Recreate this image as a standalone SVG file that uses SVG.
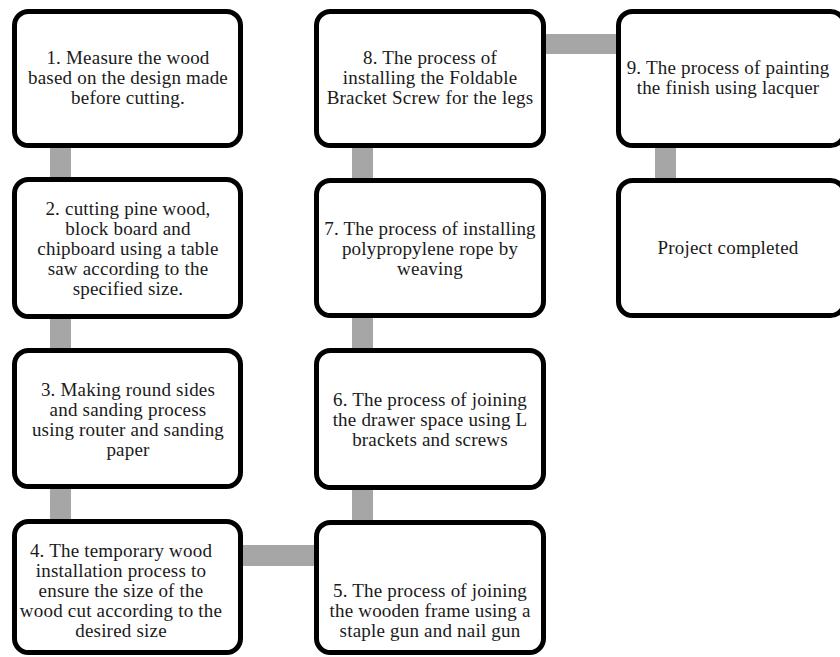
<svg xmlns="http://www.w3.org/2000/svg" width="840" height="657" viewBox="0 0 840 657">
<style>
.box{fill:#fff;stroke:#000;stroke-width:5}
.lbl{font-family:"Liberation Serif","Times New Roman",serif;font-size:19px;fill:#1a1a1a;text-anchor:middle;letter-spacing:0.2px}
.con{fill:#a6a6a6}
</style>
<rect width="840" height="657" fill="#fff"/>
<g id="connectors">
<rect class="con" x="50" y="146" width="21" height="34"/>
<rect class="con" x="50" y="316" width="21" height="35"/>
<rect class="con" x="50" y="486" width="21" height="36"/>
<rect class="con" x="241" y="545" width="76" height="21"/>
<rect class="con" x="352" y="486" width="21" height="36"/>
<rect class="con" x="352" y="316" width="21" height="35"/>
<rect class="con" x="352" y="146" width="21" height="34"/>
<rect class="con" x="544" y="34" width="75" height="20"/>
<rect class="con" x="655" y="146" width="21" height="34"/>
</g>
<g id="n1"><rect class="box" x="14.5" y="11.5" width="226" height="134" rx="14"/>
<text class="lbl" x="128" y="64">1. Measure the wood</text>
<text class="lbl" x="128" y="84">based on the design made</text>
<text class="lbl" x="128" y="104">before cutting.</text></g>
<g id="n2"><rect class="box" x="14.5" y="179.5" width="226" height="137" rx="14"/>
<text class="lbl" x="128" y="215">2. cutting pine wood,</text>
<text class="lbl" x="128" y="235">block board and</text>
<text class="lbl" x="128" y="255">chipboard using a table</text>
<text class="lbl" x="128" y="275">saw according to the</text>
<text class="lbl" x="128" y="295">specified size.</text></g>
<g id="n3"><rect class="box" x="14.5" y="350.5" width="226" height="136" rx="14"/>
<text class="lbl" x="128" y="396">3. Making round sides</text>
<text class="lbl" x="128" y="416">and sanding process</text>
<text class="lbl" x="128" y="436">using router and sanding</text>
<text class="lbl" x="128" y="456">paper</text></g>
<g id="n4"><rect class="box" x="14.5" y="521.5" width="226" height="131" rx="14"/>
<text class="lbl" x="121" y="557">4. The temporary wood</text>
<text class="lbl" x="121" y="577">installation process to</text>
<text class="lbl" x="121" y="597">ensure the size of the</text>
<text class="lbl" x="121" y="617">wood cut according to the</text>
<text class="lbl" x="121" y="637">desired size</text></g>
<g id="n5"><rect class="box" x="316.5" y="522.5" width="227" height="130" rx="14"/>
<text class="lbl" x="430" y="597">5. The process of joining</text>
<text class="lbl" x="430" y="617">the wooden frame using a</text>
<text class="lbl" x="430" y="637">staple gun and nail gun</text></g>
<g id="n6"><rect class="box" x="316.5" y="350.5" width="227" height="137" rx="14"/>
<text class="lbl" x="430" y="406">6. The process of joining</text>
<text class="lbl" x="430" y="426">the drawer space using L</text>
<text class="lbl" x="430" y="446">brackets and screws</text></g>
<g id="n7"><rect class="box" x="316.5" y="180.5" width="227" height="135" rx="14"/>
<text class="lbl" x="430" y="235">7. The process of installing</text>
<text class="lbl" x="430" y="255">polypropylene rope by</text>
<text class="lbl" x="430" y="275">weaving</text></g>
<g id="n8"><rect class="box" x="316.5" y="11.5" width="227" height="134" rx="14"/>
<text class="lbl" x="430" y="64">8. The process of</text>
<text class="lbl" x="430" y="84">installing the Foldable</text>
<text class="lbl" x="430" y="104">Bracket Screw for the legs</text></g>
<g id="n9"><rect class="box" x="618.5" y="11.5" width="226" height="134" rx="14"/>
<text class="lbl" x="728" y="74">9. The process of painting</text>
<text class="lbl" x="728" y="94">the finish using lacquer</text></g>
<g id="n10"><rect class="box" x="618.5" y="180.5" width="226" height="135" rx="14"/>
<text class="lbl" x="728" y="254">Project completed</text></g>
</svg>
